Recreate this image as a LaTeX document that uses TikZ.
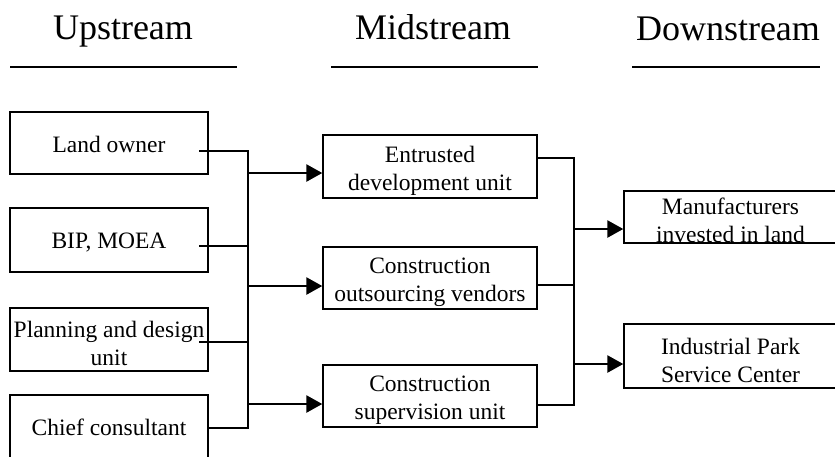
\documentclass[tikz,border=0pt]{standalone}
\usepackage{fontspec}
\setmainfont{Liberation Serif}
\usetikzlibrary{arrows.meta}
\begin{document}
\begin{tikzpicture}[x=1pt,y=-1pt,
  box/.style={draw,line width=1.4pt,rectangle,inner sep=0pt},
  lbox/.style={box,minimum width=198pt},
  mbox/.style={box,minimum width=214pt},
  rbox/.style={box,minimum width=213pt},
  txt/.style={inner sep=0pt,align=center,font=\fontsize{23.5}{28}\selectfont},
  conn/.style={line width=1.6pt},
  arr/.style={line width=2.6pt,-{Triangle[length=16pt,width=17pt]}},
  head/.style={font=\fontsize{36}{40}\selectfont,inner sep=0pt,anchor=base},
  rule/.style={line width=2pt}]
\useasboundingbox (0,0) rectangle (835,456);
\clip (0,0) rectangle (835,456);
% headers
\node[head] (hu) at (123,39) {Upstream};
\node[head] (hm) at (433,39) {Midstream};
\node[head] (hd) at (728,40) {Downstream};
\coordinate (ru1) at (10,67); \coordinate (ru2) at (237,67);
\coordinate (rm1) at (331,67); \coordinate (rm2) at (538,67);
\coordinate (rd1) at (632,67); \coordinate (rd2) at (820,67);
\draw[rule] (ru1) -- (ru2);
\draw[rule] (rm1) -- (rm2);
\draw[rule] (rd1) -- (rd2);
% left boxes
\node[lbox,minimum height=62pt] (lo) at (109,143) {};
\node[lbox,minimum height=64pt] (bip) at (109,240) {};
\node[lbox,minimum height=63pt] (pd) at (109,339.5) {};
\node[lbox,minimum height=64pt] (cc) at (109,427) {};
\node[txt] (lot) at ([yshift=-1pt]lo.center) {Land owner};
\node[txt] (bipt) at ([yshift=-3pt]bip.center) {BIP, MOEA};
\node[txt] (pdt) at ([yshift=-4pt]pd.center) {Planning and design\\unit};
\node[txt] (cct) at ([yshift=0pt]cc.center) {Chief consultant};
% middle boxes
\node[mbox,minimum height=63pt] (ed) at (430,166.5) {};
\node[mbox,minimum height=62pt] (co) at (430,278) {};
\node[mbox,minimum height=62pt] (cs) at (430,396) {};
\node[txt] (edt) at ([yshift=-4pt]ed.center) {Entrusted\\development unit};
\node[txt] (cot) at ([yshift=-4pt]co.center) {Construction\\outsourcing vendors};
\node[txt] (cst) at ([yshift=-4pt]cs.center) {Construction\\supervision unit};
% right boxes
\node[rbox,minimum height=52pt] (mf) at (730.5,217) {};
\node[rbox,minimum height=64pt] (ip) at (730.5,356) {};
\node[txt] (mft) at ([yshift=-3pt]mf.center) {Manufacturers\\invested in land};
\node[txt] (ipt) at ([yshift=-4pt]ip.center) {Industrial Park\\Service Center};
% bus 1
\coordinate (lo1) at (199,151);
\coordinate (bip1) at (199,246);
\coordinate (pd1) at (199,342);
\coordinate (b1t) at (248,151);
\coordinate (b1b) at (248,428);
\coordinate (b1a) at (248,173);
\coordinate (b1c) at (248,286);
\coordinate (b1d) at (248,404);
\draw[conn] (lo1) -- (b1t) -- (b1b) -- (cc.east |- b1b);
\draw[conn] (bip1) -- (bip1 -| b1t);
\draw[conn] (pd1) -- (pd1 -| b1t);
\draw[arr] (b1a) -- (ed.west |- b1a);
\draw[arr] (b1c) -- (co.west |- b1c);
\draw[arr] (b1d) -- (cs.west |- b1d);
% bus 2
\coordinate (b2t) at (574,158);
\coordinate (b2m) at (574,285);
\coordinate (b2b) at (574,405);
\coordinate (b2a) at (574,229);
\coordinate (b2c) at (574,364);
\draw[conn] (ed.east |- b2t) -- (b2t) -- (b2b) -- (cs.east |- b2b);
\draw[conn] (co.east |- b2m) -- (b2m);
\draw[arr] (b2a) -- (mf.west |- b2a);
\draw[arr] (b2c) -- (ip.west |- b2c);
\end{tikzpicture}
\end{document}
